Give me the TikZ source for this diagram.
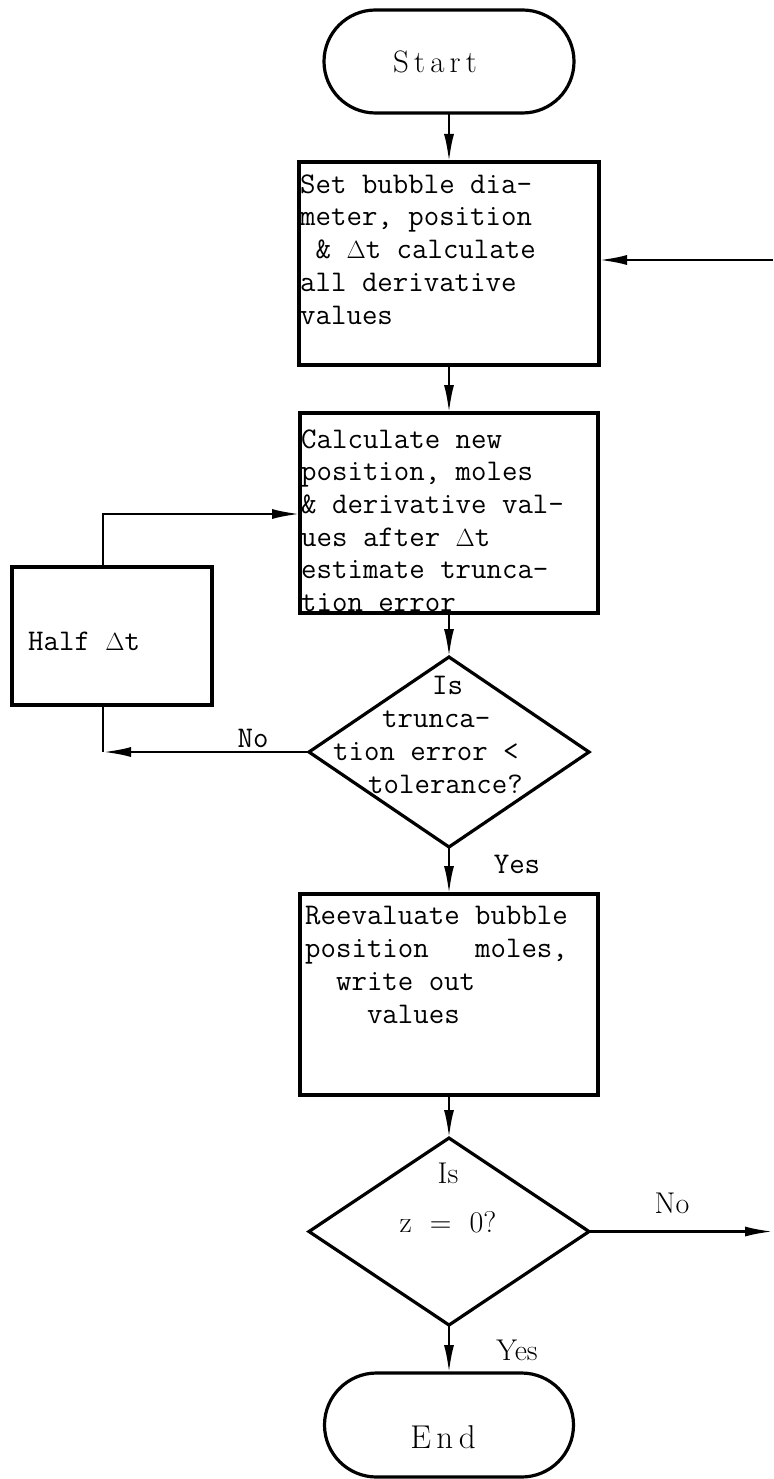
\documentclass[tikz,border=0pt]{standalone}
\usepackage{fontspec}
\usetikzlibrary{shapes.geometric,shapes.misc,arrows.meta}
\begin{document}
\begin{tikzpicture}[x=1pt,y=-1pt]
\tikzset{
  boxs/.style={draw, line width=3.2pt, rectangle, inner sep=0pt, outer sep=0pt},
  terms/.style={draw, line width=3.2pt, rounded rectangle, inner sep=0pt, outer sep=0pt},
  decs/.style={draw, line width=3.2pt, diamond, inner sep=0pt, outer sep=0pt, minimum width=280pt},
  ttx/.style={font=\ttfamily\fontsize{30}{32.7}\selectfont, inner sep=0pt, align=left},
  rmx/.style={font=\fontsize{30}{36}\selectfont, inner sep=0pt},
  arr/.style={line width=2.6pt, -{Latex[length=28pt,width=10pt]}},
  lns/.style={line width=2.6pt}
}
\useasboundingbox (0,0) rectangle (773,1479);

% shapes
\node[terms, minimum width=250pt, minimum height=103pt] (start) at (449,61.5) {};
\node[boxs, minimum width=300pt, minimum height=203pt] (b1) at (449,263.5) {};
\node[boxs, minimum width=298pt, minimum height=200pt] (b2) at (449,513) {};
\node[boxs, minimum width=200pt, minimum height=138pt] (half) at (112,636) {};
\node[decs, minimum height=190pt] (d1) at (449,752) {};
\node[boxs, minimum width=298pt, minimum height=201pt] (b3) at (449,994.5) {};
\node[decs, minimum height=187pt] (d2) at (449,1231.5) {};
\node[terms, minimum width=249pt, minimum height=104pt] (end) at (449,1425) {};

% texts (base anchor of a multi-line node = baseline of its last line)
\node[rmx, font=\fontsize{31}{36}\selectfont, anchor=base] (tstart) at (435,73) {S\,t\,a\,r\,t};
\node[ttx, anchor=base west] (tb1) at (300,324)
  {Set bubble dia-\\meter, position\\~\&~$\Delta$t calculate\\all derivative\\values};
\node[ttx, anchor=base west] (tb2) at (301,611.5)
  {Calculate new\\position, moles\\\&~derivative val-\\ues after $\Delta$t\\estimate trunca-\\tion error};
\node[ttx, anchor=base west] (thalf) at (28,650) {Half $\Delta$t};
\node[ttx, anchor=base west] (td1) at (333,793)
  {\hspace*{99pt}Is\\\hspace*{49pt}trunca-\\tion error <\\\hspace*{35pt}tolerance?};
\node[ttx, anchor=base west] (tb3) at (305,1023)
  {Reevaluate bubble\\position~~~moles,\\~~write out\\~~~~values};
\node[rmx, anchor=base] (td2a) at (448,1183) {Is};
\node[rmx, anchor=base] (td2b) at (448,1232) {z~~=~~0?};
\node[rmx, font=\fontsize{33}{36}\selectfont, anchor=base] (tend) at (443,1448) {E\,n\,d};

% branch labels
\node[ttx, anchor=base] (lno1) at (253,747) {No};
\node[ttx, anchor=base] (lyes1) at (517,873) {Yes};
\node[rmx, anchor=base] (lno2) at (672,1213) {No};
\node[rmx, anchor=base] (lyes2) at (517,1360) {Yes};

% helper coordinates
\coordinate (inR) at (773,260);
\coordinate (outR) at (773,1231.5);
\coordinate (c1) at (103,514);
\coordinate (c2) at (103,752);

% connectors
\draw[arr] (start.south) -- (b1.north);
\draw[arr] (inR) -- (inR -| b1.east);
\draw[arr] (b1.south) -- (b2.north);
\draw[arr] (b2.south) -- (d1.north);
\draw[arr] (c1 |- half.north) -- (c1) -- (c1 -| b2.west);
\draw[arr] (d1.west) -- (c2);
\draw[lns] (c2) -- (c2 |- half.south);
\draw[arr] (d1.south) -- (b3.north);
\draw[arr] (b3.south) -- (d2.north);
\draw[arr] (d2.east) -- (outR);
\draw[arr] (d2.south) -- (end.north);
\end{tikzpicture}
\end{document}
